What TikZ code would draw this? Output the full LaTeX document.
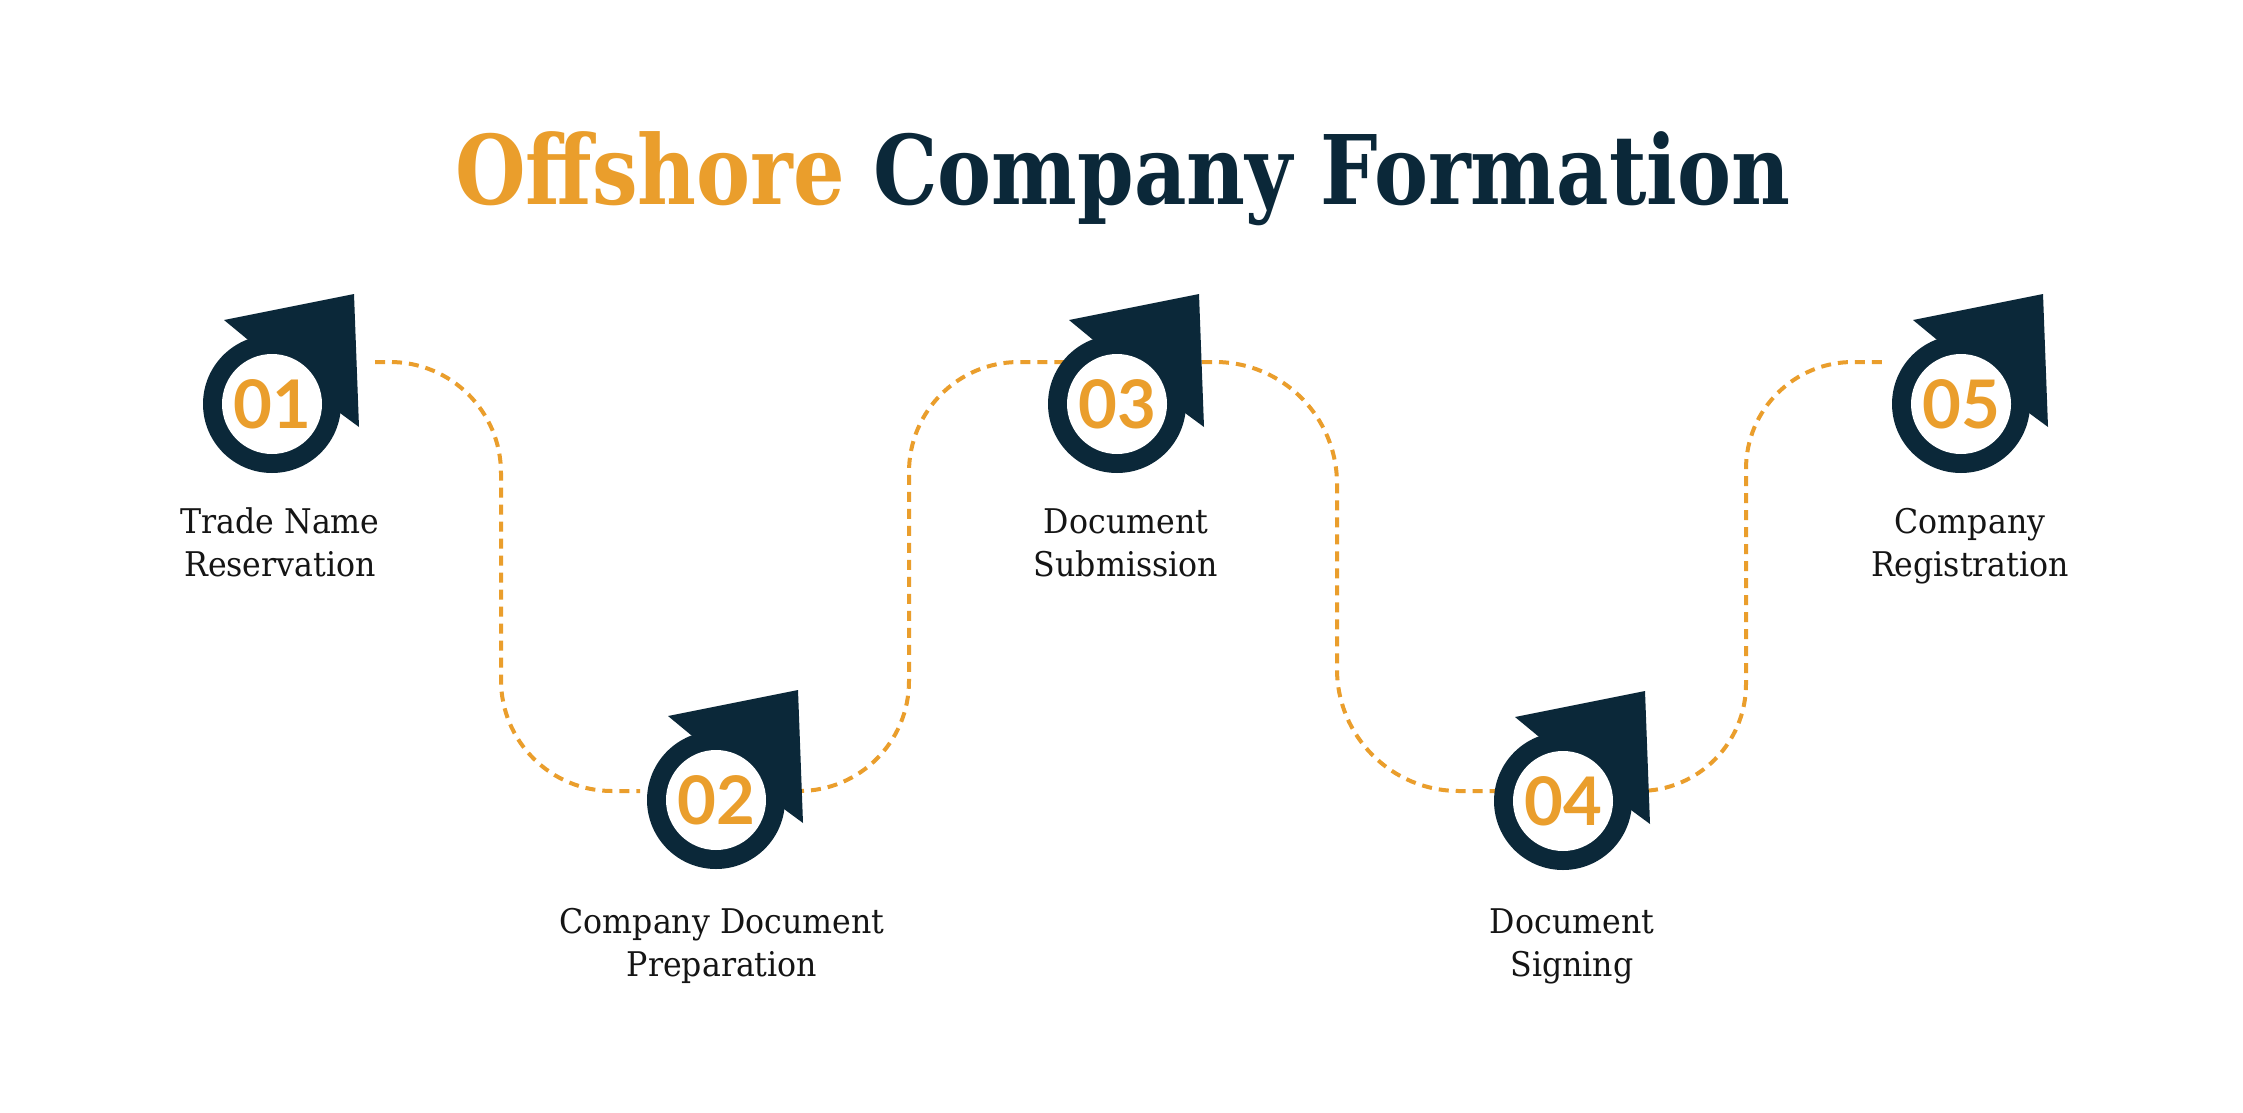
\documentclass[tikz,border=0pt]{standalone}
\usepackage{fontspec}
\usepackage{graphicx}
\usetikzlibrary{calc}
\newfontfamily\titlefont{DejaVu Serif}
\newfontfamily\labelfont[FakeStretch=0.93]{DejaVu Serif}
\newfontfamily\numfont{Lato}
\definecolor{navy}{HTML}{0B2839}
\definecolor{orng}{HTML}{EA9E2C}
\definecolor{ink}{HTML}{151515}
\tikzset{
  flow/.style={draw=orng, line width=4pt, dash pattern=on 10pt off 7pt},
  steplabel/.style={font=\labelfont\fontsize{34}{42.7}\selectfont, text=ink, align=center, inner sep=0pt, anchor=base},
  stepnum/.style={font=\numfont\bfseries\fontsize{67}{67}\selectfont, text=orng, inner sep=0pt, anchor=base},
  icon/.pic={
    \fill[navy] (82,-110) -- (-48,-84) -- (-25,-65) -- (68,9) -- (87,23) -- cycle;
    \fill[navy] (0,0) circle[radius=69];
    \fill[white] (0,0) circle[radius=50];
  }
}
\begin{document}
\begin{tikzpicture}[x=1pt,y=-1pt]
\useasboundingbox[fill=white] (0,0) rectangle (2243,1113);

\node[anchor=base west, inner sep=0pt] (title) at (455,204)
  {\resizebox{1335pt}{\height}{\titlefont\bfseries\fontsize{96}{100}\selectfont\textcolor{orng}{Offshore} \textcolor{navy}{Company Formation}}};

\coordinate (s1) at (272,404);
\coordinate (s2) at (716,800);
\coordinate (s3) at (1117,404);
\coordinate (s4) at (1563,801);
\coordinate (s5) at (1961,404);

\coordinate (c1s) at (375,362);  \coordinate (c1e) at (640,791);
\coordinate (c2s) at (760,791);  \coordinate (c2e) at (1117,362);
\coordinate (c3s) at (1117,362); \coordinate (c3e) at (1540,791);
\coordinate (c4s) at (1563,791); \coordinate (c4e) at (1882,362);

\draw[flow, rounded corners=111pt] (c1s) -- (501,362) -- (501,791) -- (c1e);
\draw[flow, rounded corners=110pt] (c2s) -- (909,791) -- (909,362) -- (c2e);
\draw[flow, rounded corners=122pt] (c3s) -- (1337,362) -- (1337,791) -- (c3e);
\draw[flow, rounded corners=107pt] (c4s) -- (1746,791) -- (1746,362) -- (c4e);

\pic at (s1) {icon};
\pic at (s2) {icon};
\pic at (s3) {icon};
\pic at (s4) {icon};
\pic at (s5) {icon};

\node[stepnum] (n1) at ($(s1)+(0,24)$) {01};
\node[stepnum] (n2) at ($(s2)+(0,24)$) {02};
\node[stepnum] (n3) at ($(s3)+(0,24)$) {03};
\node[stepnum] (n4) at ($(s4)+(0,24)$) {04};
\node[stepnum] (n5) at ($(s5)+(0,24)$) {05};

\node[steplabel] (l1) at (280,576) {Trade Name\\Reservation};
\node[steplabel] (l2) at (722,976) {Company Document\\Preparation};
\node[steplabel] (l3) at (1126,576) {Document\\Submission};
\node[steplabel] (l4) at (1572,976) {Document\\Signing};
\node[steplabel] (l5) at (1970,576) {Company\\Registration};
\end{tikzpicture}
\end{document}
